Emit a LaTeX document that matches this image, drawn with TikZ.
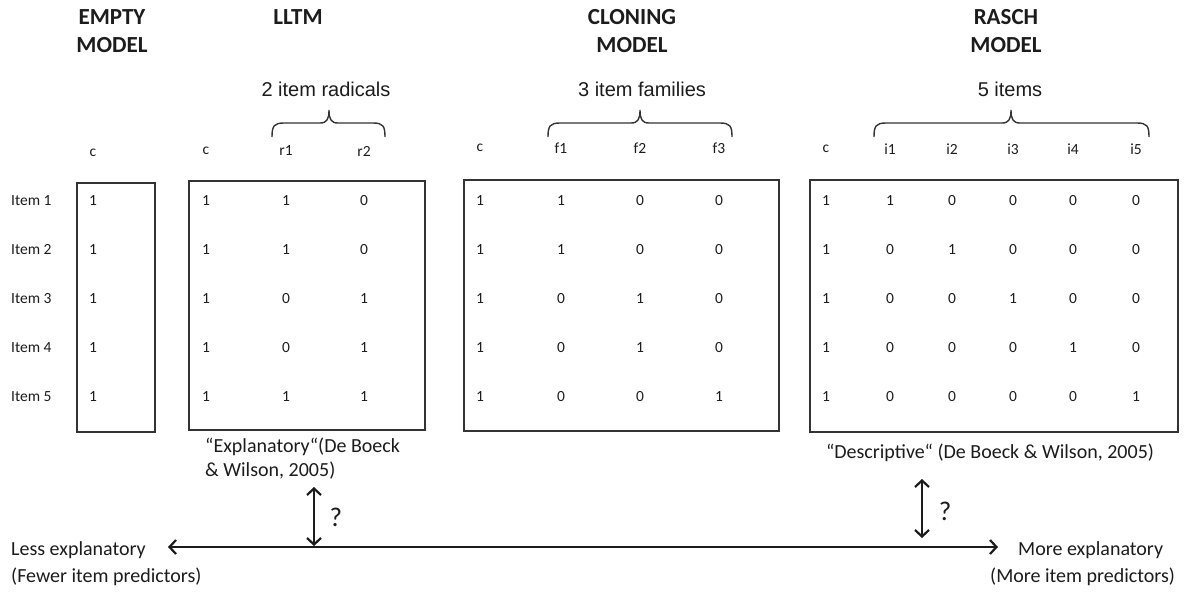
\documentclass[tikz,border=0pt]{standalone}
\usepackage{fontspec}
\setmainfont{Carlito}
\newfontfamily\arialfont{Liberation Sans}
\usetikzlibrary{arrows.meta}
\definecolor{ink}{HTML}{1C1C1C}
\definecolor{rule}{HTML}{333333}

% one column of a design matrix: tag, column no., x, header, five values
\newcommand{\matcol}[9]{%
  \node[hdr] (#1-h#2) at (#3,\hy) {#4};
  \node[val] (#1-#2-1) at (#3,201) {#5};
  \node[val] (#1-#2-2) at (#3,250) {#6};
  \node[val] (#1-#2-3) at (#3,299) {#7};
  \node[val] (#1-#2-4) at (#3,348) {#8};
  \node[val] (#1-#2-5) at (#3,397) {#9};
}
% curly brace over the predictor columns: name, left x, tip x, right x
\newcommand{\topbrace}[4]{%
  \coordinate (#1-l) at (#2,137);
  \coordinate (#1-t) at (#3,110);
  \coordinate (#1-r) at (#4,137);
  \draw[bracepath] (#1-l) .. controls (#2,126) and (#2+2,123) .. (#2+12,123)
    -- (#3-9,123) .. controls (#3-2,123) and (#3,119) .. (#1-t)
    .. controls (#3,119) and (#3+2,123) .. (#3+9,123)
    -- (#4-12,123) .. controls (#4-2,123) and (#4,126) .. (#1-r);
}

\begin{document}
\begin{tikzpicture}[x=1pt,y=-1pt,
  title/.style={inner sep=0pt, text=ink, align=center,
    font=\fontsize{23}{28}\selectfont\bfseries},
  bracelabel/.style={inner sep=0pt, text=ink,
    font=\arialfont\fontsize{20}{24}\selectfont},
  hdr/.style={inner sep=0pt, text=ink, font=\fontsize{15.5}{18}\selectfont},
  val/.style={inner sep=0pt, text=ink, font=\fontsize{15.5}{18}\selectfont},
  itemlabel/.style={inner sep=0pt, text=ink, anchor=west,
    font=\fontsize{15.5}{18}\selectfont},
  matbox/.style={draw=rule, line width=1.4pt, inner sep=0pt},
  bracepath/.style={draw=rule, line width=1.4pt},
  note/.style={inner sep=0pt, text=ink, font=\fontsize{20}{23.5}\selectfont},
  qmark/.style={inner sep=0pt, text=ink, font=\fontsize{27}{30}\selectfont},
  dblarrow/.style={draw=ink, line width=1.6pt,
    {Straight Barb[length=6.5pt,width=14pt,line width=2.2pt]}-{Straight Barb[length=6.5pt,width=14pt,line width=2.2pt]}},
]
\useasboundingbox (0,0) rectangle (1184,592);

% model titles
\node[title] (tE) at (112,31) {EMPTY\\MODEL};
\node[title] (tL) at (298,17) {LLTM};
\node[title] (tC) at (632,31) {CLONING\\MODEL};
\node[title] (tR) at (1006,31) {RASCH\\MODEL};

% braces grouping the predictors
\node[bracelabel] (bL) at (326,89) {2 item radicals};
\node[bracelabel] (bC) at (642,89) {3 item families};
\node[bracelabel] (bR) at (1010,89) {5 items};
\topbrace{brL}{272}{329}{385}
\topbrace{brC}{548}{640}{732}
\topbrace{brR}{874}{1011}{1149}

% item labels
\foreach \i/\y in {1/201,2/250,3/299,4/348,5/397}
  \node[itemlabel] (item\i) at (11,\y) {Item \i};

% matrix frames
\node[matbox, minimum width=78pt, minimum height=249pt] (boxE) at (116,307.5) {};
\node[matbox, minimum width=236pt, minimum height=249pt] (boxL) at (307,305.5) {};
\node[matbox, minimum width=315pt, minimum height=251pt] (boxC) at (621.5,305.5) {};
\node[matbox, minimum width=368pt, minimum height=252pt] (boxR) at (994,306) {};

% empty model
\def\hy{153}
\matcol{E}{1}{93}{c}{1}{1}{1}{1}{1}

% LLTM
\def\hy{151}
\matcol{L}{1}{206}{c}{1}{1}{1}{1}{1}
\matcol{L}{2}{286}{r1}{1}{1}{0}{0}{1}
\matcol{L}{3}{364}{r2}{0}{0}{1}{1}{1}

% cloning model
\def\hy{148}
\matcol{C}{1}{480}{c}{1}{1}{1}{1}{1}
\matcol{C}{2}{561}{f1}{1}{1}{0}{0}{0}
\matcol{C}{3}{640}{f2}{0}{0}{1}{1}{0}
\matcol{C}{4}{719}{f3}{0}{0}{0}{0}{1}

% Rasch model
\def\hy{149}
\matcol{R}{1}{826}{c}{1}{1}{1}{1}{1}
\matcol{R}{2}{890}{i1}{1}{0}{0}{0}{0}
\matcol{R}{3}{952}{i2}{0}{1}{0}{0}{0}
\matcol{R}{4}{1013}{i3}{0}{0}{1}{0}{0}
\matcol{R}{5}{1073}{i4}{0}{0}{0}{1}{0}
\matcol{R}{6}{1136}{i5}{0}{0}{0}{0}{1}

% notes under the matrices
\node[note, anchor=north west, align=left] (explan) at (205,438)
  {“Explanatory“(De Boeck\\\& Wilson, 2005)};
\node[note, anchor=base] (descr) at (990,458)
  {“Descriptive“ (De Boeck \& Wilson, 2005)};

% explanatory axis
\coordinate (axL) at (168,547);
\coordinate (axR) at (998,547);
\draw[dblarrow] (axL) -- (axR);
\node[note, anchor=base west] (less) at (11,555) {Less explanatory};
\node[note, anchor=base west] (fewer) at (11,582) {(Fewer item predictors)};
\node[note, anchor=base west] (more) at (1018,555) {More explanatory};
\node[note, anchor=base west] (morepred) at (990,582) {(More item predictors)};

% where the two models sit on the axis
\coordinate (qLtop) at (314,487);
\coordinate (qLbot) at (314,546);
\draw[dblarrow] (qLtop) -- (qLbot);
\node[qmark] (qL) at (336,517) {?};
\coordinate (qRtop) at (922,479);
\coordinate (qRbot) at (922,538);
\draw[dblarrow] (qRtop) -- (qRbot);
\node[qmark] (qR) at (945,511) {?};
\end{tikzpicture}
\end{document}
